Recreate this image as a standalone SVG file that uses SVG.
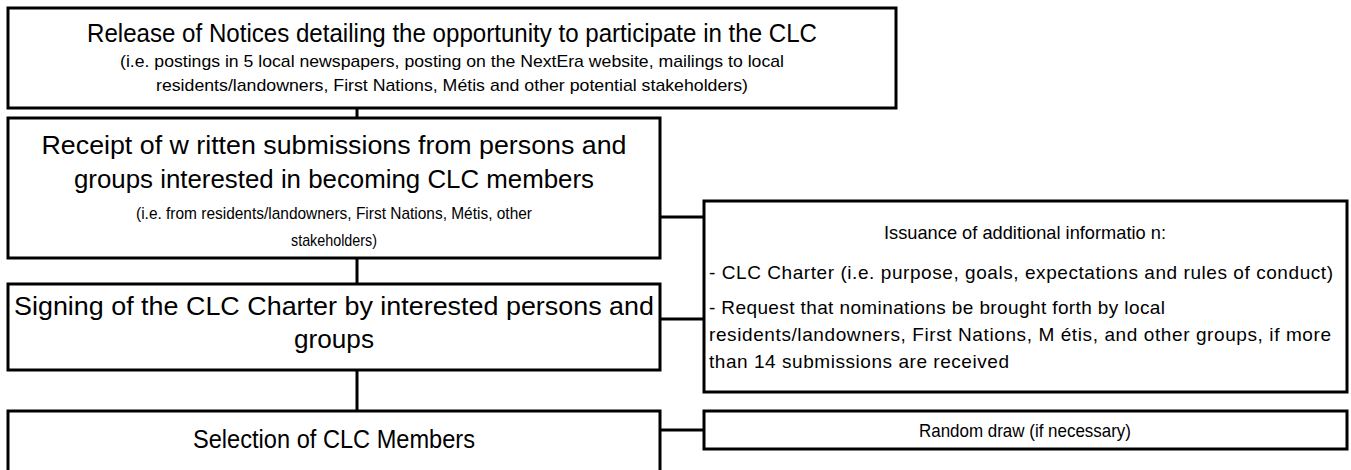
<svg xmlns="http://www.w3.org/2000/svg" width="1351" height="470" viewBox="0 0 1351 470">
<style>
.box{fill:#fff;stroke:#000;stroke-width:3}
.ln{stroke:#000;stroke-width:3;fill:none}
text{font-family:"Liberation Sans Narrow","Liberation Sans",Arial,sans-serif;fill:#000}
.big{font-size:25px;text-anchor:middle}
.med{font-size:26px;text-anchor:middle}
.sm{font-size:17px;text-anchor:middle}
.r{font-size:19px}
.rc{font-size:19px;text-anchor:middle}
</style>
<rect width="1351" height="470" fill="#fff"/>
<g id="connectors">
<line class="ln" x1="357" y1="108" x2="357" y2="118"/>
<line class="ln" x1="357" y1="258" x2="357" y2="284"/>
<line class="ln" x1="357" y1="370" x2="357" y2="411"/>
<line class="ln" x1="660" y1="217" x2="704" y2="217"/>
<line class="ln" x1="660" y1="319" x2="704" y2="319"/>
<line class="ln" x1="660" y1="430" x2="704" y2="430"/>
</g>
<g id="n1">
<rect class="box" x="8" y="8" width="888" height="100"/>
<text class="big" x="452" y="42" textLength="730" lengthAdjust="spacingAndGlyphs">Release of Notices detailing the opportunity to participate in the CLC</text>
<text class="sm" x="452" y="67" textLength="664" lengthAdjust="spacingAndGlyphs">(i.e. postings in 5 local newspapers, posting on the NextEra website, mailings to local</text>
<text class="sm" x="452" y="91" textLength="592" lengthAdjust="spacingAndGlyphs">residents/landowners, First Nations, Métis and other potential stakeholders)</text>
</g>
<g id="n2">
<rect class="box" x="8" y="118" width="652" height="140"/>
<text class="med" x="334" y="154" textLength="585" lengthAdjust="spacingAndGlyphs">Receipt of w ritten submissions from persons and</text>
<text class="med" x="334" y="188" textLength="520" lengthAdjust="spacingAndGlyphs">groups interested in becoming CLC members</text>
<text class="sm" x="334" y="219" textLength="396" lengthAdjust="spacingAndGlyphs">(i.e. from residents/landowners, First Nations, Métis, other</text>
<text class="sm" x="334" y="246" textLength="86" lengthAdjust="spacingAndGlyphs">stakeholders)</text>
</g>
<g id="n3">
<rect class="box" x="8" y="284" width="652" height="86"/>
<text class="med" x="334" y="315" textLength="640" lengthAdjust="spacingAndGlyphs">Signing of the CLC Charter by interested persons and</text>
<text class="med" x="334" y="348" textLength="80" lengthAdjust="spacingAndGlyphs">groups</text>
</g>
<g id="n4">
<rect class="box" x="8" y="411" width="652" height="72"/>
<text class="med" x="334" y="448" textLength="282" lengthAdjust="spacingAndGlyphs">Selection of CLC Members</text>
</g>
<g id="n5">
<rect class="box" x="704" y="201" width="643" height="191"/>
<text class="rc" x="1025" y="239" textLength="282" lengthAdjust="spacingAndGlyphs">Issuance of additional informatio n:</text>
<text class="r" x="709" y="279" textLength="624">- CLC Charter (i.e. purpose, goals, expectations and rules of conduct)</text>
<text class="r" x="709" y="314" textLength="456">- Request that nominations be brought forth by local</text>
<text class="r" x="709" y="341" textLength="622">residents/landowners, First Nations, M étis, and other groups, if more</text>
<text class="r" x="709" y="368" textLength="300">than 14 submissions are received</text>
</g>
<g id="n6">
<rect class="box" x="704" y="411" width="643" height="38"/>
<text class="rc" x="1025" y="437" textLength="212" lengthAdjust="spacingAndGlyphs">Random draw (if necessary)</text>
</g>
</svg>
